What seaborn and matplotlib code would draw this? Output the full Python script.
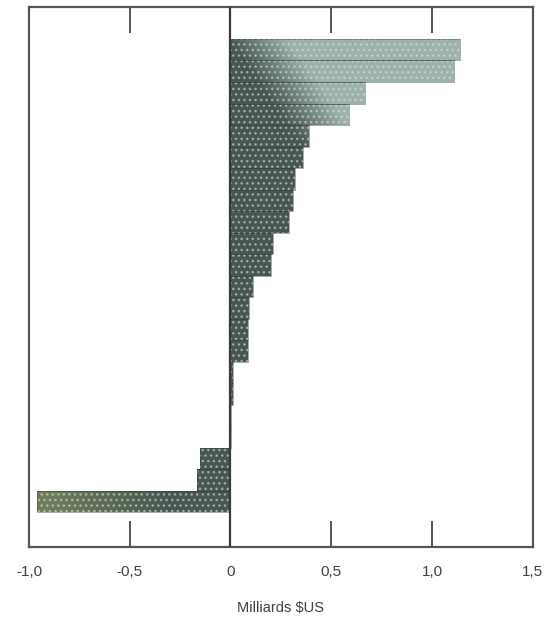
import numpy as np
import pandas as pd
import matplotlib
matplotlib.use("Agg")
import matplotlib.pyplot as plt
import seaborn as sns
from matplotlib.path import Path
from matplotlib.colors import LinearSegmentedColormap

# values (milliards $US), top to bottom
categories = [f"c{i:02d}" for i in range(1, 23)]
values = [1.14, 1.11, 0.67, 0.59, 0.39, 0.36, 0.32, 0.31, 0.29, 0.21, 0.20,
          0.11, 0.09, 0.085, 0.085, 0.012, 0.010, 0.004, 0.003,
          -0.15, -0.165, -0.96]
tick_values = [-1.0, -0.5, 0.0, 0.5, 1.0, 1.5]
tick_labels = ["-1,0", "-0,5", "0", "0,5", "1,0", "1,5"]

df = pd.DataFrame({"pays": categories, "valeur": values})

sns.set_style("white")
plt.rcParams["font.family"] = ["Liberation Sans", "DejaVu Sans"]
plt.rcParams["hatch.linewidth"] = 1.1

ink = "#404040"
fig = plt.figure(figsize=(5.58, 6.18), dpi=100)
ax = fig.add_axes([0.052, 0.115, 0.9027, 0.8742])

# base bars
sns.barplot(data=df, x="valeur", y="pays", orient="h", color="#475650",
            width=1.0, saturation=1, linewidth=0, ax=ax)
bars = list(ax.patches)

# shaded gradient inside the bars (dark near zero, lighter to the right)
xs = np.linspace(-1.0, 1.5, 500)
ys = np.linspace(-2.0, 23.1, 500)
X, Y = np.meshgrid(xs, ys)
pos = np.clip((X - 0.02 - 0.075 * Y) / 0.3, 0, 1)
neg = np.clip((-X - 0.3) / 0.6, 0, 1)
field = np.where(X >= 0, pos, -neg)
cmap = LinearSegmentedColormap.from_list(
    "ombre", [(0.0, "#6f7c5c"), (0.5, "#475650"), (1.0, "#9db2ab")])
im = ax.imshow(field, extent=(-1.0, 1.5, 23.1, -2.0), origin="upper",
               cmap=cmap, vmin=-1, vmax=1, aspect="auto",
               interpolation="bilinear", zorder=2)
paths = [b.get_path().transformed(b.get_patch_transform()) for b in bars]
im.set_clip_path(Path.make_compound_path(*paths), ax.transData)

# halftone dots on top
sns.barplot(data=df, x="valeur", y="pays", orient="h", width=1.0,
            fill=False, linewidth=0, ax=ax)
n = len(bars)
for b in ax.patches[n:]:
    b.set_hatch("...")
    b.set_edgecolor((0.86, 0.90, 0.88, 0.5))
    b.set_linewidth(0)
    b.set_zorder(3)

# thin dark outlines
sns.barplot(data=df, x="valeur", y="pays", orient="h", width=1.0,
            fill=False, ax=ax)
for b in ax.patches[2 * n:]:
    b.set_edgecolor((0.2, 0.24, 0.22, 0.6))
    b.set_linewidth(0.5)
    b.set_zorder(3.5)

ax.axvline(0, color="#3a3a3a", lw=1.6, zorder=4)

ax.set_xlim(-1.0, 1.5)
ax.set_ylim(23.1, -2.0)
ax.set_xticks(tick_values)
ax.set_xticklabels(tick_labels)
ax.set_yticks([])
ax.set_ylabel("")
ax.set_xlabel(r"Milliards \$US", fontsize=10.5, color=ink, labelpad=16)
ax.tick_params(axis="x", direction="in", length=19, width=1.4, color="#555555",
               top=True, bottom=True, labelsize=11, labelcolor=ink, pad=13)
for s in ax.spines.values():
    s.set_visible(True)
    s.set_color("#555555")
    s.set_linewidth(1.6)

fig.savefig("out.png", dpi=100, facecolor="white")
